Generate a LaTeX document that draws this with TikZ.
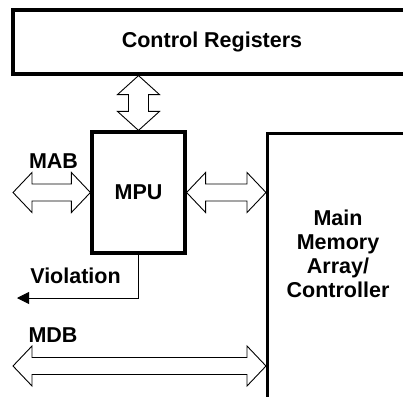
\documentclass[tikz,border=0pt]{standalone}
\usepackage{fontspec}
\setmainfont{Liberation Sans}
\usetikzlibrary{arrows.meta,calc}
\begin{document}
\begin{tikzpicture}[x=1pt,y=-1pt,
  every node/.style={font=\fontsize{21.5}{24}\selectfont\bfseries,text=black},
  unit/.style={draw,line width=3.2pt,inner sep=0pt},
  hbus/.style={line width=0.9pt,to path={let \p1=(\tikztostart),\p2=(\tikztotarget) in
    (\p1) -- (\x1+19pt,\y1+20pt) -- (\x1+19pt,\y1+8.5pt) -- (\x2-19pt,\y1+8.5pt) -- (\x2-19pt,\y1+20pt) -- (\p2)
    -- (\x2-19pt,\y1-20pt) -- (\x2-19pt,\y1-8.5pt) -- (\x1+19pt,\y1-8.5pt) -- (\x1+19pt,\y1-20pt) -- cycle}},
  vbus/.style={line width=0.9pt,to path={let \p1=(\tikztostart),\p2=(\tikztotarget) in
    (\p1) -- (\x1+21pt,\y1-19pt) -- (\x1+10pt,\y1-19pt) -- (\x1+10pt,\y2+19pt) -- (\x1+21pt,\y2+19pt) -- (\p2)
    -- (\x1-21pt,\y2+19pt) -- (\x1-10pt,\y2+19pt) -- (\x1-10pt,\y1-19pt) -- (\x1-21pt,\y1-19pt) -- cycle}}]
\useasboundingbox (0,0) rectangle (403,396);
\clip (0,0) rectangle (403,396);
% blocks
\node[unit,minimum width=398pt,minimum height=64pt] (ctrl) at (212,42) {Control Registers};
\node[unit,minimum width=93pt,minimum height=121pt] (mpu) at (138.5,192.5) {MPU};
\node[unit,minimum width=150pt,minimum height=300pt,anchor=north west] (mem) at (266,132) {};
\node[align=center] (memlbl) at (338,253.5) {Main\\Memory\\Array/\\Controller};
% bus labels
\node (mablbl) at (53.5,161) {MAB};
\node (viollbl) at (75.5,276) {Violation};
\node (mdblbl) at (53,335) {MDB};
\coordinate (mab) at (13,192.5);
\coordinate (mdb) at (13,366);
\coordinate (viol) at (17,298);
% buses
\draw[vbus] (mpu.north |- ctrl.south) to (mpu.north);
\draw[hbus] (mab) to (mpu.west);
\draw[hbus] (mpu.east) to (mpu.east -| mem.west);
\draw[hbus] (mdb) to (mdb -| mem.west);
\draw[line width=0.9pt,-{Triangle[length=12pt,width=12pt]}] (mpu.south) |- (viol);
\end{tikzpicture}
\end{document}
